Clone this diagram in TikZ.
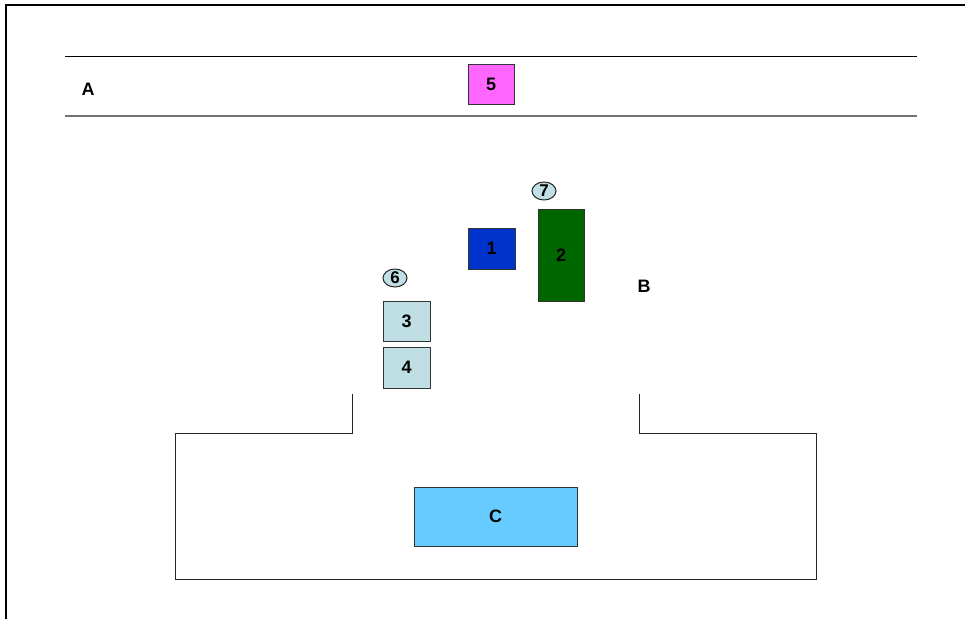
\documentclass[tikz,border=0pt]{standalone}
\usepackage{fontspec}
\setmainfont{Liberation Sans}
\usetikzlibrary{shapes.geometric}
\begin{document}
\begin{tikzpicture}[x=1pt,y=-1pt,
  lbl/.style={font=\fontsize{18}{18}\selectfont\bfseries},
  blk/.style={draw=black!80,line width=0.9pt,inner sep=0pt,font=\fontsize{18}{18}\selectfont\bfseries},
  badge/.style={draw=black!85,line width=1pt,ellipse,fill=lb,inner sep=0pt,minimum width=24pt,minimum height=18pt,font=\fontsize{17}{17}\selectfont\bfseries}]
\definecolor{lb}{HTML}{BFDFE4}
\definecolor{mag}{HTML}{FF66FF}
\definecolor{dgreen}{HTML}{006600}
\definecolor{dblue}{HTML}{0033CC}
\definecolor{sky}{HTML}{66CCFF}
\useasboundingbox (0,0) rectangle (965,619);
% frame
\coordinate (f1) at (6,619);
\coordinate (f2) at (6,5);
\coordinate (f3) at (965,5);
\draw[line width=2pt] (f1) -- (f2) -- (f3);
% band lines
\coordinate (l1a) at (65,56.5);
\coordinate (l1b) at (917,56.5);
\coordinate (l2a) at (65,116);
\coordinate (l2b) at (917,116);
\draw[line width=1pt] (l1a) -- (l1b);
\draw[line width=1.3pt,black!55] (l2a) -- (l2b);
\node[lbl] (A) at (88,89) {A};
\node[lbl] (B) at (644,286) {B};
% boxes
\node[blk,fill=mag,minimum width=46pt,minimum height=40pt] (n5) at (491,84) {5};
\node[blk,fill=dblue,minimum width=47pt,minimum height=41pt] (n1) at (491.5,248.5) {1};
\node[blk,fill=dgreen,minimum width=46pt,minimum height=92pt] (n2) at (561,255) {2};
\node[blk,fill=lb,minimum width=47pt,minimum height=40pt] (n3) at (406.5,321) {3};
\node[blk,fill=lb,minimum width=47pt,minimum height=41pt] (n4) at (406.5,367.5) {4};
\node[blk,fill=sky,minimum width=163pt,minimum height=59pt] (C) at (495.5,516.5) {C};
\node[badge] (n7) at (544,191) {7};
\node[badge] (n6) at (395,278) {6};
% outline
\coordinate (o1) at (352,394);
\coordinate (o2) at (352,433.5);
\coordinate (o3) at (175,433.5);
\coordinate (o4) at (175,579);
\coordinate (o5) at (816,579);
\coordinate (o6) at (816,433.5);
\coordinate (o7) at (639,433.5);
\coordinate (o8) at (639,394);
\draw[line width=1pt,black!85] (o1) -- (o2) -- (o3) -- (o4) -- (o5) -- (o6) -- (o7) -- (o8);
\end{tikzpicture}
\end{document}
